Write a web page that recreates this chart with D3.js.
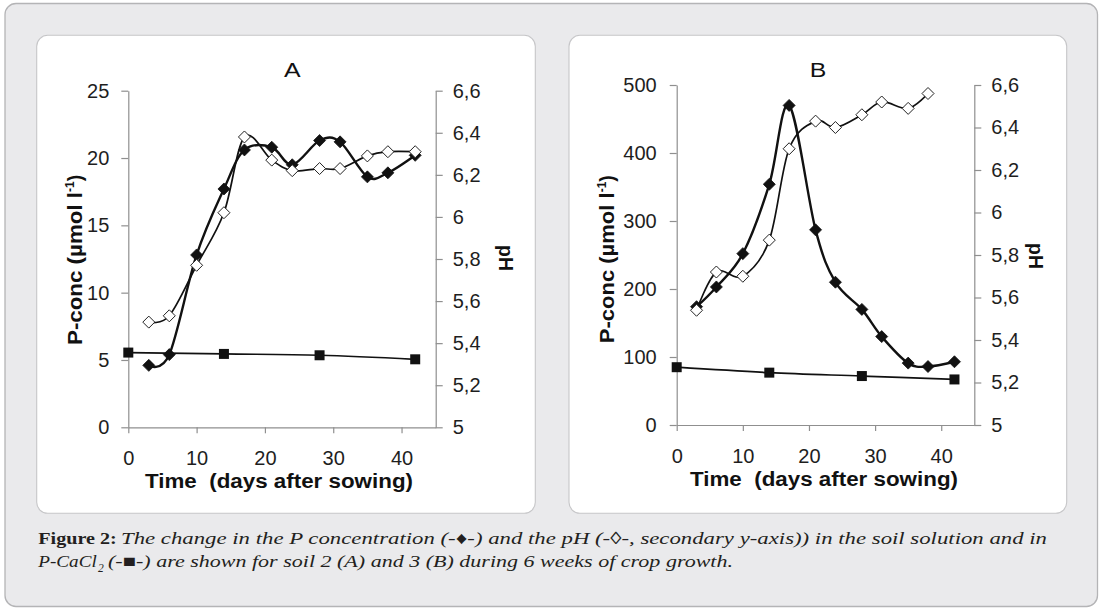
<!DOCTYPE html>
<html><head><meta charset="utf-8">
<script src="https://cdn.jsdelivr.net/npm/d3@7"></script>
<style>
html,body{margin:0;padding:0;background:#fff;}
svg{display:block;}
</style></head>
<body><svg id="c" width="1101" height="609"></svg>
<script>
// ---------- data ----------
const daysP = [3,6,10,14,17,21,24,28,31,35,38,42];
const daysCa = [0,14,28,42];
// Panel A (soil 2)
const pA  = [4.6,5.4,12.8,17.7,20.6,20.8,19.5,21.3,21.2,18.6,18.9,20.2];
const phDaysA = [3,6,10,14,17,21,24,28,31,35,38,42];
const phA = [5.50,5.53,5.77,6.02,6.38,6.27,6.22,6.23,6.23,6.29,6.31,6.31];
const caA = [5.55,5.45,5.35,5.05];
// Panel B (soil 3)
const pB  = [174,203,252,354,470,287,210,170,130,91,86,93];
const phDaysB = [3,6,10,14,17,21,24,28,31,35,38];
const phB = [5.54,5.72,5.70,5.87,6.30,6.43,6.40,6.46,6.52,6.49,6.56];
const caB = [85,77,72,67];
// ticks
const xTicks = [0,10,20,30,40];
const phTicks = [5,5.2,5.4,5.6,5.8,6,6.2,6.4,6.6];
const yTicksA = [0,5,10,15,20,25];
const yTicksB = [0,100,200,300,400,500];

const svg = d3.select("#c");
// background frame
svg.append("rect").attr("x",5).attr("y",3.5).attr("width",1092.5).attr("height",603)
  .attr("rx",11).attr("fill","#eaeaec").attr("stroke","#b4b4b6").attr("stroke-width",1.3);
const cards = [{x:36.7,w:498.6},{x:569,w:497.7}];
cards.forEach(c=>svg.append("rect").attr("x",c.x).attr("y",35.3).attr("width",c.w).attr("height",478)
  .attr("rx",11).attr("fill","#fff").attr("stroke","#c6c6c8").attr("stroke-width",1.1));

const fmtPh = d => String(+d.toFixed(1)).replace(".", ",");
const AX = "#8f8f8f";
const FONT = "'Liberation Sans', Arial, sans-serif";
const diamond = "M0,-6L6,0L0,6L-6,0Z";

function panel(cfg){
  const g = svg.append("g");
  const x = d3.scaleLinear().domain([0,45]).range([cfg.left,cfg.right]);
  const yL = d3.scaleLinear().domain(cfg.yDom).range([cfg.bottom,cfg.top]);
  const yR = d3.scaleLinear().domain([5,6.6]).range([cfg.bottom,cfg.top]);

  const styleAxis = sel => {
    sel.selectAll("path").attr("stroke",AX).attr("stroke-width",1.2);
    sel.selectAll("line").attr("stroke",AX).attr("stroke-width",1.2);
    sel.selectAll("text").attr("font-family",FONT).attr("font-size",20).attr("fill","#1e1e1e");
  };
  g.append("g").attr("transform",`translate(0,${cfg.bottom})`)
    .call(d3.axisBottom(x).tickValues(xTicks).tickSize(6).tickSizeOuter(0).tickPadding(18))
    .call(styleAxis);
  g.append("g").attr("transform",`translate(${cfg.left},0)`)
    .call(d3.axisLeft(yL).tickValues(cfg.yTicks).tickSize(7).tickSizeOuter(0).tickPadding(cfg.lpad))
    .call(styleAxis);
  g.append("g").attr("transform",`translate(${cfg.right},0)`)
    .call(d3.axisRight(yR).tickValues(phTicks).tickFormat(fmtPh).tickSize(7).tickSizeOuter(0).tickPadding(10))
    .call(styleAxis);

  const curve = d3.curveCardinal.tension(0);
  // P-conc
  const pts = cfg.p.map((v,i)=>[x(daysP[i]),yL(v)]);
  g.append("path").attr("d",d3.line().curve(curve)(pts)).attr("fill","none").attr("stroke","#111").attr("stroke-width",2.4);
  // CaCl2
  const cpts = cfg.ca.map((v,i)=>[x(daysCa[i]),yL(v)]);
  g.append("path").attr("d",d3.line().curve(curve)(cpts)).attr("fill","none").attr("stroke","#111").attr("stroke-width",1.7);
  // pH
  const hpts = cfg.ph.map((v,i)=>[x(cfg.phDays[i]),yR(v)]);
  g.append("path").attr("d",d3.line().curve(curve)(hpts)).attr("fill","none").attr("stroke","#111").attr("stroke-width",1.7);

  g.selectAll(".pm").data(pts).join("path").attr("d",diamond)
    .attr("transform",d=>`translate(${d[0]},${d[1]})`).attr("fill","#111").attr("stroke","#111").attr("stroke-width",0.8);
  g.selectAll(".cm").data(cpts).join("path").attr("d",d3.symbol(d3.symbolSquare,100)())
    .attr("transform",d=>`translate(${d[0]},${d[1]})`).attr("fill","#111");
  g.selectAll(".hm").data(hpts).join("path").attr("d",diamond)
    .attr("transform",d=>`translate(${d[0]},${d[1]})`).attr("fill","#fff").attr("stroke","#222").attr("stroke-width",1);

  // titles
  g.append("text").attr("x",cfg.titleX-8.3).attr("y",cfg.titleY)
    .attr("font-family",FONT).attr("font-size",20).attr("fill","#111")
    .attr("textLength",16.6).attr("lengthAdjust","spacingAndGlyphs").text(cfg.title);
  g.append("text").attr("x",cfg.xlabX).attr("y",cfg.bottom+61)
    .attr("font-family",FONT).attr("font-size",19.5).attr("font-weight","bold").attr("fill","#111")
    .attr("textLength",268).attr("lengthAdjust","spacingAndGlyphs")
    .attr("xml:space","preserve").text("Time  (days after sowing)");
  const yl = g.append("text").attr("transform",`translate(${cfg.ylabX},${cfg.ylabY}) rotate(-90)`)
    .attr("font-family",FONT).attr("font-size",19.5).attr("font-weight","bold").attr("fill","#111");
  yl.append("tspan").attr("x",0).attr("textLength",cfg.ylabLen-22).attr("lengthAdjust","spacingAndGlyphs").text("P-conc (µmol l");
  yl.append("tspan").attr("font-size",12).attr("dy",-8).text("-1");
  yl.append("tspan").attr("dy",8).text(")");
  g.append("text").attr("transform",`translate(${cfg.phX},${cfg.phY}) rotate(90)`)
    .attr("text-anchor","middle").attr("font-family",FONT).attr("font-size",19.5).attr("font-weight","bold").attr("fill","#111").text("pH");
}

panel({left:128.3,right:435.7,top:90.7,bottom:427.3,yDom:[0,25],yTicks:yTicksA,lpad:12,
  p:pA,ph:phA,phDays:phDaysA,ca:caA,title:"A",titleX:292.3,titleY:77.3,xlabX:145,
  ylabX:82,ylabY:345,ylabLen:175,phX:499,phY:258});
panel({left:676.7,right:974.3,top:85,bottom:425,yDom:[0,500],yTicks:yTicksB,lpad:13,
  p:pB,ph:phB,phDays:phDaysB,ca:caB,title:"B",titleX:818,titleY:76.7,xlabX:690,
  ylabX:613.5,ylabY:343.3,ylabLen:173,phX:1029,phY:256});

// caption
const SERIF = "'Liberation Serif', 'Times New Roman', serif";
const ink = "#231f20";
svg.append("text").attr("x",38.3).attr("y",544).attr("font-family",SERIF).attr("font-size",16.5)
  .attr("font-weight","bold").attr("fill",ink)
  .attr("textLength",78.5).attr("lengthAdjust","spacingAndGlyphs").text("Figure 2:");
svg.append("text").attr("x",121).attr("y",544).attr("font-family",SERIF).attr("font-size",17.3)
  .attr("font-style","italic").attr("fill",ink)
  .attr("textLength",926).attr("lengthAdjust","spacingAndGlyphs")
  .text("The change in the P concentration (-\u2666-) and the pH (-\u25CA-, secondary y-axis)) in the soil solution and in");
svg.append("text").attr("x",38.3).attr("y",567).attr("font-family",SERIF).attr("font-size",17.3)
  .attr("font-style","italic").attr("fill",ink)
  .attr("textLength",58.4).attr("lengthAdjust","spacingAndGlyphs").text("P-CaCl");
svg.append("text").attr("x",98).attr("y",572).attr("font-family",SERIF).attr("font-size",11.5)
  .attr("font-style","italic").attr("fill",ink).text("2");
svg.append("text").attr("x",108).attr("y",567).attr("font-family",SERIF).attr("font-size",17.3)
  .attr("font-style","italic").attr("fill",ink)
  .attr("textLength",625).attr("lengthAdjust","spacingAndGlyphs")
  .text("(-\u25A0-) are shown for soil 2 (A) and 3 (B) during 6 weeks of crop growth.");
</script></body></html>
